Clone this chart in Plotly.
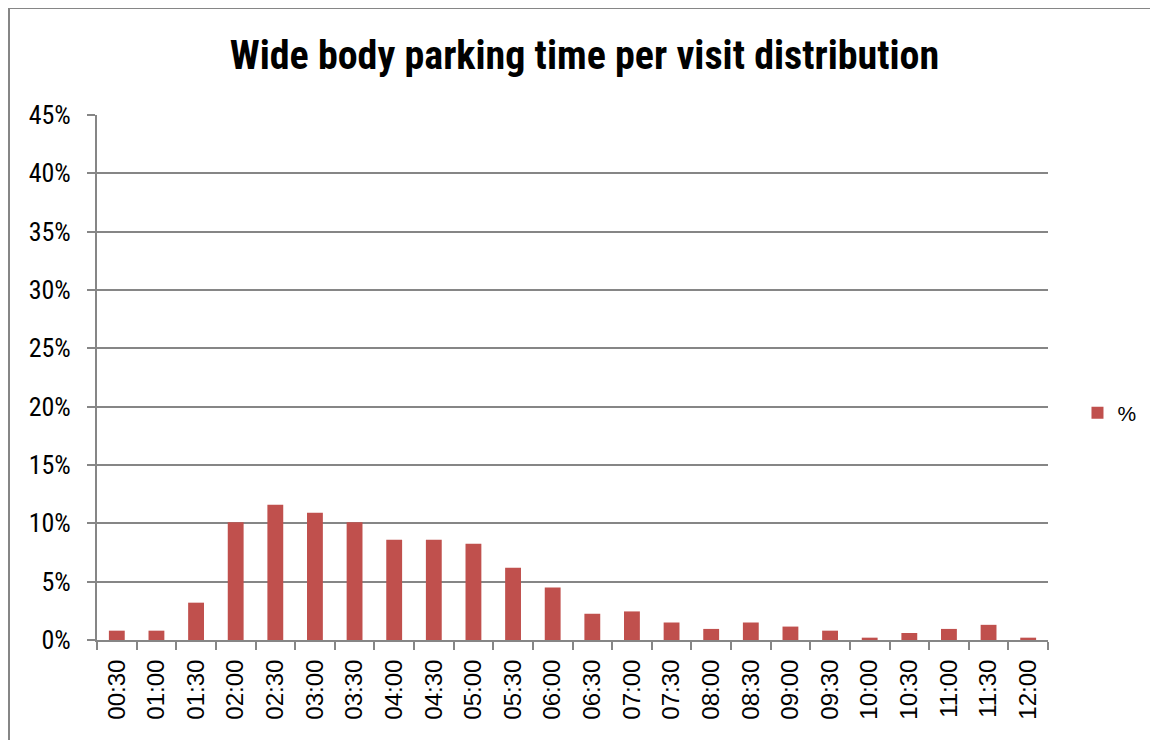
import plotly.graph_objects as go

categories = ["00:30", "01:00", "01:30", "02:00", "02:30", "03:00", "03:30", "04:00",
              "04:30", "05:00", "05:30", "06:00", "06:30", "07:00", "07:30", "08:00",
              "08:30", "09:00", "09:30", "10:00", "10:30", "11:00", "11:30", "12:00"]
values = [0.8, 0.8, 3.2, 10.1, 11.6, 10.9, 10.1, 8.6,
          8.6, 8.25, 6.2, 4.5, 2.25, 2.45, 1.5, 0.95,
          1.5, 1.15, 0.8, 0.2, 0.6, 0.95, 1.3, 0.2]
y_ticks = [0, 5, 10, 15, 20, 25, 30, 35, 40, 45]
y_labels = [f"{t}%" for t in y_ticks]

GRID = "#868686"
NARROW = "Liberation Sans Narrow, Roboto Condensed, Arial Narrow, Liberation Sans, sans-serif"
ML, MR, MT, MB = 89, 118, 107, 108
PW, PH = 1158 - ML - MR, 740 - MT - MB

fig = go.Figure()
fig.add_trace(go.Bar(
    x=categories, y=values, name="%",
    marker=dict(color="#C0504D", line=dict(width=0)),
))

fig.update_layout(
    width=1158, height=740,
    margin=dict(l=ML, r=MR, t=MT, b=MB),
    paper_bgcolor="white", plot_bgcolor="white",
    bargap=0.6,
    title=dict(text="<b>Wide body parking time per visit distribution</b>",
               x=0.4978, xanchor="center", y=1 - 47 / 740, yanchor="middle",
               font=dict(family=NARROW, size=40, color="black")),
    showlegend=True,
    legend=dict(x=1.031, y=(PH - (413 - 8 - MT)) / PH, xanchor="left", yanchor="middle",
                font=dict(family="Liberation Sans, Arial, sans-serif", size=21, color="black"),
                bgcolor="rgba(0,0,0,0)"),
    xaxis=dict(
        type="category", tickangle=-90, tickson="boundaries",
        ticks="outside", ticklen=8, tickwidth=2, tickcolor=GRID,
        showline=True, linecolor=GRID, linewidth=2,
        showgrid=False,
        ticklabelstandoff=8,
        tickfont=dict(family="Liberation Sans, Arial, sans-serif", size=24, color="black"),
    ),
    yaxis=dict(
        range=[0, 45], tickvals=y_ticks, ticktext=y_labels,
        ticks="outside", ticklen=8, tickwidth=2, tickcolor=GRID,
        showline=True, linecolor=GRID, linewidth=2,
        showgrid=True, gridcolor=GRID, gridwidth=2, zeroline=False,
        ticklabelstandoff=11,
        tickfont=dict(family=NARROW, size=26, color="black"),
    ),
    shapes=[
        dict(type="line", xref="paper", yref="paper",
             x0=(0 - ML) / PW, x1=(1170 - ML) / PW,
             y0=(PH + MT - 0) / PH, y1=(PH + MT - 0) / PH,
             line=dict(color=GRID, width=2)),
        dict(type="line", xref="paper", yref="paper",
             x0=(1 - ML) / PW, x1=(1 - ML) / PW,
             y0=(PH + MT) / PH, y1=-(MB + 20) / PH,
             line=dict(color=GRID, width=2)),
    ],
)

fig.write_html("out.html")
